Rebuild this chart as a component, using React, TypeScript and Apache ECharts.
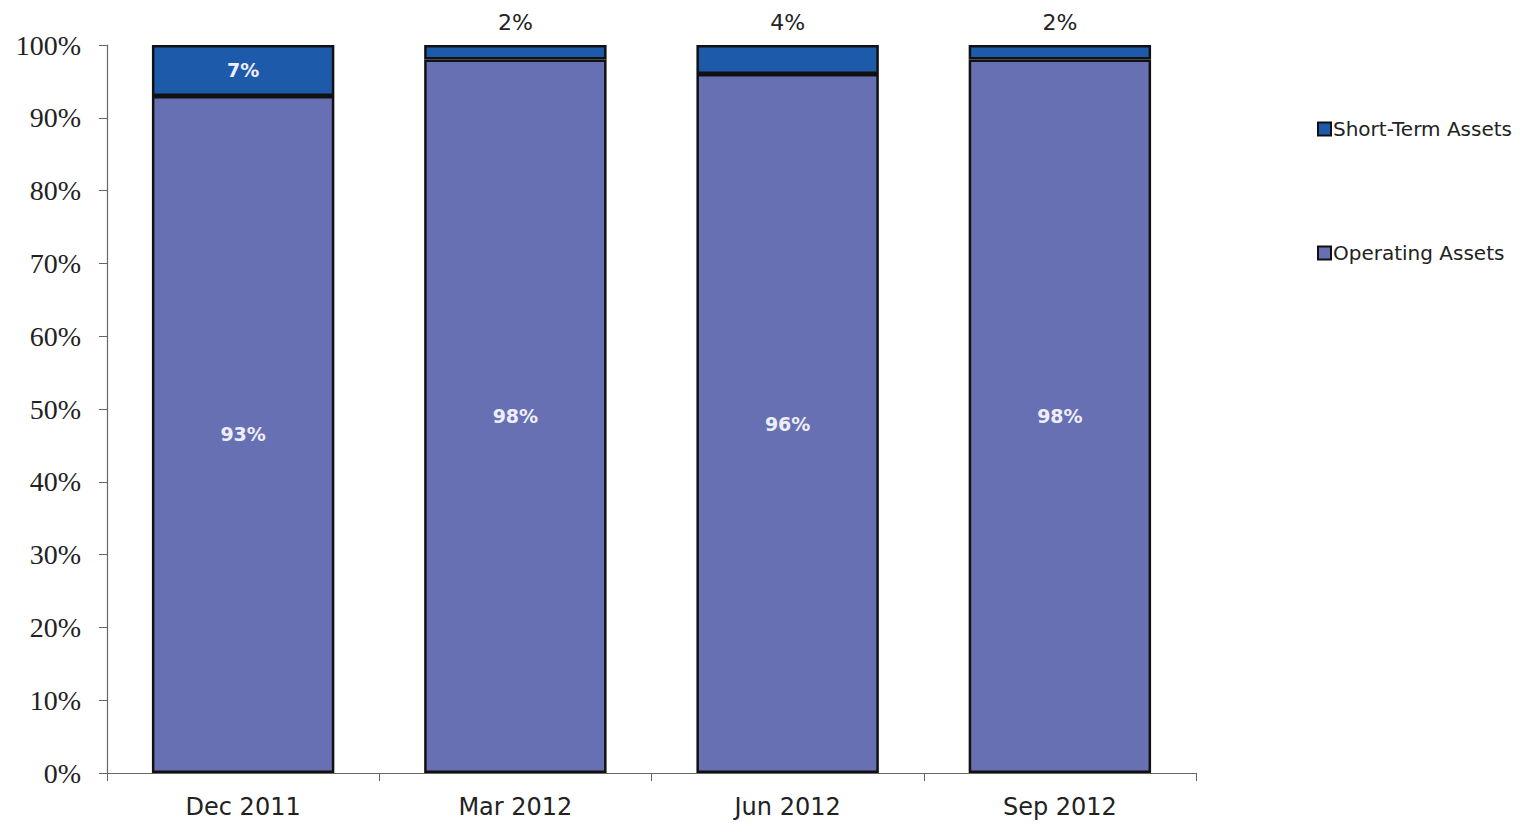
import React, { useEffect, useRef } from "react";
import * as echarts from "echarts";

const categories = ["Dec 2011", "Mar 2012", "Jun 2012", "Sep 2012"];
const operatingAssets = [93, 98, 96, 98];
const shortTermAssets = [7, 2, 4, 2];
const shortTermInside = [true, false, false, false];

const SANS = "DejaVu Sans";
const SERIF = "Liberation Serif";

export default function App() {
  const ref = useRef<HTMLDivElement>(null);
  useEffect(() => {
    if (!ref.current) return;
    const chart = echarts.init(ref.current, null, { renderer: "svg" });
    chart.setOption({
      animation: false,
      backgroundColor: "#ffffff",
      grid: {
        left: 107,
        right: 324,
        top: 45,
        bottom: 53,
        containLabel: false,
        outerBoundsMode: "none",
      },
      legend: {
        orient: "vertical",
        left: 1312,
        top: 114,
        itemGap: 104,
        itemWidth: 13,
        itemHeight: 13,
        icon: "rect",
        data: ["Short-Term Assets", "Operating Assets"],
        textStyle: { fontFamily: SANS, fontSize: 20, color: "#222", padding: [0, 0, 0, -3] },
      },
      xAxis: {
        type: "category",
        data: categories,
        axisLine: { lineStyle: { color: "#666", width: 1.2 } },
        axisTick: { show: true, length: 8, lineStyle: { color: "#666" } },
        axisLabel: { fontFamily: SANS, fontSize: 24, color: "#222", margin: 22 },
      },
      yAxis: {
        type: "value",
        min: 0,
        max: 100,
        interval: 10,
        splitLine: { show: false },
        axisLine: { show: true, lineStyle: { color: "#666", width: 1.2 } },
        axisTick: { show: true, length: 8, lineStyle: { color: "#666" } },
        axisLabel: {
          fontFamily: SERIF,
          fontSize: 28,
          color: "#222",
          margin: 26,
          formatter: (v: number) => v + "%",
        },
      },
      series: [
        {
          name: "Operating Assets",
          type: "bar",
          stack: "total",
          barWidth: "67%",
          data: operatingAssets,
          itemStyle: { color: "#6870B4", borderColor: "#111", borderWidth: 2.5 },
          label: {
            show: true,
            position: "inside",
            formatter: (p: any) => p.value + "%",
            fontFamily: SANS,
            fontSize: 19,
            fontWeight: "bold",
            color: "#eeeef8",
          },
        },
        {
          name: "Short-Term Assets",
          type: "bar",
          stack: "total",
          barWidth: "67%",
          itemStyle: { color: "#1E5AAA", borderColor: "#111", borderWidth: 2.5 },
          data: shortTermAssets.map((v, i) => ({
            value: v,
            label: shortTermInside[i]
              ? { position: "inside", color: "#eeeef8", fontWeight: "bold", fontSize: 19 }
              : { position: "top", color: "#222", distance: 12, fontWeight: "normal", fontSize: 22 },
          })),
          label: {
            show: true,
            formatter: (p: any) => p.value + "%",
            fontFamily: SANS,
            fontSize: 21,
          },
        },
      ],
    });
    return () => chart.dispose();
  }, []);
  return (
    <div
      ref={ref}
      style={{ position: "fixed", left: 0, top: 0, width: 1520, height: 826 }}
    />
  );
}
